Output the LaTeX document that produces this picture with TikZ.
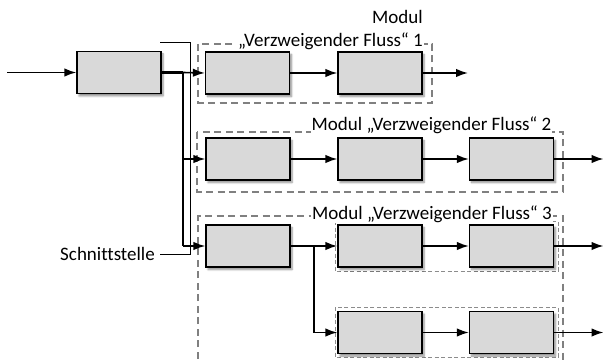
\documentclass[tikz,border=0pt]{standalone}
\usepackage{fontspec}
\setmainfont[Ligatures=NoCommon]{Carlito}
\usetikzlibrary{arrows.meta,shadows.blur}
\begin{document}
\begin{tikzpicture}[x=1pt,y=-1pt,
  blk/.style={draw=black,line width=1.3pt,fill=black!15,minimum width=84pt,minimum height=42pt,inner sep=0pt,
    blur shadow={shadow xshift=2pt,shadow yshift=-2.5pt,shadow blur steps=6,shadow opacity=45}},
  flow/.style={line width=1.6pt,-{Latex[length=12pt,width=8.5pt]}},
  bus/.style={line width=2.4pt},
  module/.style={draw=black!50,line width=1.8pt,dash pattern=on 7pt off 4.5pt},
  submodule/.style={draw=black!45,line width=1pt,dash pattern=on 4pt off 2.5pt},
  txt/.style={font=\fontsize{19}{23}\selectfont},
  lbl/.style={txt,inner sep=1pt,fill=white},
  thinline/.style={line width=0.8pt}]
\useasboundingbox (0,0) rectangle (604,363);

% module frames
\draw[module] (198,44) rectangle (432,103);
\draw[module] (197,132) rectangle (563,192);
\draw[module] (198,370) -- (198,216) -- (563,216) -- (563,370);
\draw[submodule] (335,221) rectangle (558,271);
\draw[submodule] (335,307) rectangle (558,357);

% blocks
\node[blk] (m)   at (119,72.5) {};
\node[blk] (a1)  at (247.5,73) {};
\node[blk] (b1)  at (380,73) {};
\node[blk] (a2)  at (248,159) {};
\node[blk] (b2)  at (380,159) {};
\node[blk] (c2)  at (511.5,159) {};
\node[blk] (a3)  at (248,246) {};
\node[blk] (b3)  at (380,246) {};
\node[blk] (c3)  at (511.5,246) {};
\node[blk] (b4)  at (380,332.5) {};
\node[blk] (c4)  at (511.5,332.5) {};

% labels
\node[lbl,anchor=south east,align=right] (l1) at (424,51) {Modul\hspace{0.3em}\\„Verzweigender Fluss“ 1};
\node[lbl,anchor=base] (l2) at (431.5,131) {Modul „Verzweigender Fluss“ 2};
\node[lbl,anchor=base] (l3) at (432,219) {Modul „Verzweigender Fluss“ 3};
\node[txt,anchor=east,inner sep=0pt] (sch) at (155,254) {Schnittstelle};

% free ends
\coordinate (in) at (7,72.5);
\coordinate (j) at (183,72.5);
\coordinate (j2) at (183,159);
\coordinate (j3) at (183,246);
\coordinate (k) at (314,246);
\coordinate (k4) at (314,332.5);
\coordinate (o1) at (468,73);
\coordinate (o2) at (603.5,159);
\coordinate (o3) at (603.5,246);
\coordinate (o4) at (603.5,332.5);
\coordinate (s1) at (160,42);
\coordinate (s2) at (190,42);
\coordinate (s3) at (190,254);
\coordinate (s4) at (160,254);

% interface bracket
\draw[thinline] (s1) -- (s2) -- (s3) -- (s4);

% bus
\draw[bus] (m.east) -- (j);
\draw[bus] (j) -- (j3);
\draw[flow] (j) -- (a1.west);
\draw[flow] (j2) -- (a2.west);
\draw[flow] (j3) -- (a3.west);

% flows
\draw[flow] (in) -- (m.west);
\draw[flow] (a1) -- (b1);
\draw[flow] (b1.east) -- (o1);
\draw[flow] (a2) -- (b2);
\draw[flow] (b2) -- (c2);
\draw[flow] (c2.east) -- (o2);
\draw[flow] (a3) -- (b3);
\draw[flow] (b3) -- (c3);
\draw[flow] (c3.east) -- (o3);
\draw[line width=1.6pt] (k) -- (k4);
\draw[flow] (k4) -- (b4.west);
\draw[flow] (b4) -- (c4);
\draw[flow] (c4.east) -- (o4);
\end{tikzpicture}
\end{document}
